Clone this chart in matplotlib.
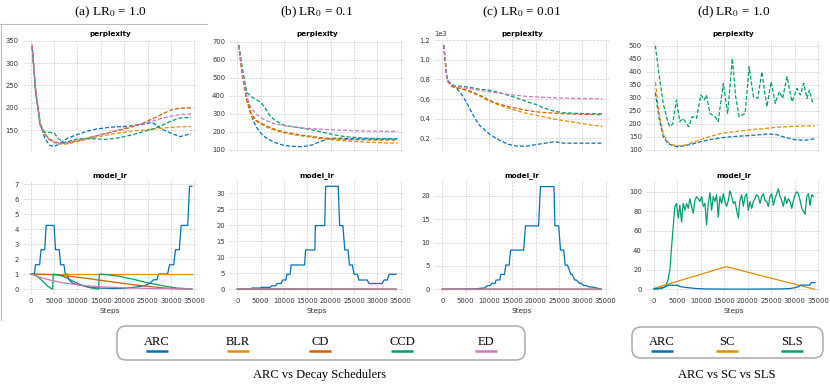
import matplotlib
matplotlib.use('Agg')
import matplotlib.pyplot as plt
import numpy as np
from matplotlib.patches import FancyBboxPatch
from matplotlib.lines import Line2D

plt.rcParams['font.family'] = ['DejaVu Sans']
plt.rcParams['mathtext.fontset'] = 'stix'

# colours (seaborn colorblind)
C_ARC = '#0173b2'
C_BLR = '#de8f05'
C_CD = '#d55e00'
C_CCD = '#029e73'
C_ED = '#cc78bc'

# ---------------- perplexity data ----------------
ppl_steps = [300, 1000, 2000, 3000, 4000, 5000, 6000, 7000, 8000, 10000, 12000,
             14000, 16000, 18000, 20000, 22000, 24000, 26000, 28000, 30000, 32000, 34300]

# (a) LR0 = 1.0
ppl_a_arc = [340, 240, 165, 132, 116, 113, 118, 126, 132, 140, 147, 152, 155, 157, 158, 160, 163, 167, 152, 143, 135, 142]
ppl_a_blr = [342, 245, 165, 140, 128, 122, 119, 118, 119, 124, 129, 134, 138, 142, 145, 148, 150, 152, 154, 156, 157, 158]
ppl_a_cd = [338, 245, 165, 142, 130, 124, 121, 120, 121, 126, 131, 137, 142, 147, 152, 158, 165, 175, 185, 195, 199, 200]
ppl_a_ccd = [335, 240, 160, 145, 145, 143, 130, 122, 124, 130, 131, 130, 129, 131, 135, 140, 146, 152, 160, 170, 177, 178]
ppl_a_ed = [340, 245, 163, 140, 128, 122, 120, 120, 122, 127, 132, 137, 142, 148, 154, 160, 165, 170, 176, 181, 185, 186]

# (b) LR0 = 0.1
ppl_b_arc = [680, 560, 400, 290, 230, 195, 170, 155, 142, 125, 120, 118, 128, 150, 165, 165, 163, 162, 161, 160, 160, 160]
ppl_b_blr = [680, 520, 370, 290, 260, 245, 230, 218, 210, 195, 185, 177, 170, 163, 158, 153, 149, 146, 143, 141, 139, 138]
ppl_b_cd = [680, 530, 380, 300, 265, 250, 237, 225, 215, 200, 190, 182, 175, 168, 163, 160, 158, 157, 156, 155, 155, 155]
ppl_b_ccd = [680, 560, 420, 395, 380, 365, 330, 290, 265, 237, 228, 220, 212, 200, 188, 178, 172, 168, 165, 164, 163, 162]
ppl_b_ed = [680, 540, 390, 330, 300, 280, 265, 255, 245, 235, 228, 222, 218, 215, 212, 210, 208, 206, 205, 204, 203, 203]

# (c) LR0 = 0.01
ppl_c_arc = [1150, 800, 740, 710, 660, 580, 490, 400, 330, 245, 185, 140, 120, 120, 135, 150, 165, 150, 150, 150, 150, 150]
ppl_c_blr = [1150, 790, 730, 715, 705, 690, 670, 650, 630, 580, 540, 510, 480, 455, 435, 415, 395, 380, 365, 350, 335, 320]
ppl_c_cd = [1150, 790, 730, 715, 705, 695, 680, 660, 640, 590, 550, 525, 505, 485, 470, 462, 456, 450, 447, 445, 443, 440]
ppl_c_ccd = [1150, 800, 745, 735, 730, 725, 718, 710, 700, 690, 670, 640, 610, 575, 545, 505, 475, 460, 455, 452, 450, 450]
ppl_c_ed = [1150, 800, 745, 730, 720, 712, 705, 697, 690, 675, 660, 648, 637, 628, 622, 617, 613, 610, 607, 605, 603, 602]

# (d) LR0 = 1.0, ARC vs SC vs SLS
ppl_d_arc = [320, 230, 150, 125, 117, 113, 115, 118, 122, 132, 140, 146, 150, 153, 155, 158, 161, 160, 148, 140, 137, 143]
ppl_d_sc = [360, 250, 160, 130, 120, 116, 117, 121, 127, 140, 152, 162, 168, 172, 176, 180, 183, 187, 189, 191, 192, 192]
sls_ppl_steps = [300, 1000, 2000, 3000, 3360, 4000, 4790, 5500, 6210, 7430, 8140, 9070, 10000, 10700, 11200,
                 11930, 13000, 13700, 14790, 15710, 16710, 17430, 18140, 19430, 20290, 21210, 22140,
                 23000, 24070, 25000, 25860, 26710, 27430, 28360, 29430, 30500, 31210, 31930, 32640,
                 33140, 33860]
sls_ppl = [500, 400, 275, 205, 190, 200, 292, 209, 221, 189, 228, 221, 311, 292, 311,
           240, 228, 209, 356, 240, 451, 304, 228, 240, 419, 304, 298,
           400, 266, 362, 279, 324, 298, 381, 285, 336, 311, 356, 298,
           330, 279]

# ---------------- learning-rate data ----------------
# (a)
lr_a_arc_steps = [0, 800, 1000, 1900, 2200, 3000, 3300, 5000, 5300, 6100, 6400, 7100, 7400, 7800, 8200,
                  9000, 10000, 11500, 13000, 15000, 18000, 20000, 21500, 23000, 24500, 25500, 26300,
                  27000, 27400, 29300, 29700, 30600, 31000, 31800, 32200, 33600, 34000, 34500]
lr_a_arc = [1.0, 1.0, 1.62, 1.62, 2.62, 2.62, 4.24, 4.24, 2.62, 2.62, 1.62, 1.62, 1.0, 1.0, 0.62,
            0.38, 0.3, 0.2, 0.1, 0.06, 0.04, 0.05, 0.1, 0.15, 0.24, 0.38, 0.62,
            0.62, 1.0, 1.0, 1.62, 1.62, 2.62, 2.62, 4.24, 4.24, 6.85, 6.85]
lr_a_blr_steps = [0, 34500]
lr_a_blr = [1.0, 1.0]
lr_a_cd_steps = [0, 2000, 4000, 6000, 8000, 10000, 12000, 14000, 16000, 18000, 20000, 22000,
                 24000, 26000, 28000, 30000, 32000, 34500]
lr_a_cd = [1.0, 0.99, 0.97, 0.92, 0.86, 0.79, 0.71, 0.62, 0.54, 0.45, 0.37, 0.29,
           0.21, 0.15, 0.09, 0.04, 0.01, 0.0]
lr_a_ccd_steps = [0, 700, 1800, 2800, 3600, 4300, 4700, 4800, 6500, 8000, 9500, 11000, 12500, 14000,
                  14500, 14700, 16500, 19000, 22000, 24500, 27000, 29500, 31500, 34500]
lr_a_ccd = [1.0, 1.0, 0.75, 0.45, 0.2, 0.05, 0.0, 1.0, 0.9, 0.7, 0.45, 0.25, 0.1, 0.02,
            0.0, 1.0, 0.95, 0.85, 0.65, 0.45, 0.3, 0.15, 0.06, 0.01]
lr_a_ed_steps = [0, 2000, 4000, 6000, 8000, 10000, 12000, 15000, 18000, 21000, 24000, 27000, 30000, 34500]
lr_a_ed = [1.0, 0.78, 0.61, 0.47, 0.37, 0.29, 0.22, 0.15, 0.11, 0.07, 0.05, 0.03, 0.02, 0.01]

# (b)
lr_b_arc_steps = [0, 3000, 3100, 4900, 5100, 7000, 7400, 8200, 8500, 9400, 9700, 10400, 10600, 11300,
                  11500, 14400, 14600, 16600, 16700, 18700, 18900, 21600, 21900, 22600, 23000, 23700,
                  24000, 24600, 25000, 25700, 26000, 27800, 28200, 31000, 31400, 32100, 32500, 34000]
lr_b_arc = [0.1, 0.2, 0.4, 0.4, 0.6, 0.6, 1.1, 1.1, 1.8, 1.8, 2.9, 2.9, 4.7, 4.7,
            7.6, 7.6, 12.3, 12.3, 19.9, 19.9, 32.2, 32.2, 19.9, 19.9, 12.3, 12.3,
            7.6, 7.6, 4.7, 4.7, 2.9, 2.9, 1.8, 1.8, 2.9, 2.9, 4.7, 4.7]
lr_b_small_steps = [0, 34000]
lr_b_blr = [0.1, 0.1]
lr_b_cd = [0.1, 0.0]
lr_b_ccd = [0.1, 0.0]
lr_b_ed = [0.1, 0.0]

# (c)
lr_c_arc_steps = [0, 5000, 7000, 8000, 9000, 9700, 10300, 10600, 11300, 11500, 12300, 12500, 13300,
                  13600, 14300, 14600, 17400, 17800, 20600, 21000, 23900, 24100, 24900, 25300, 26000,
                  26300, 26800, 27500, 27800, 28300, 28700, 29300, 29700, 30300, 30800, 31500, 32000,
                  33000, 33500, 34000]
lr_c_arc = [0.01, 0.05, 0.1, 0.2, 0.3, 0.8, 0.8, 1.3, 1.3, 2.0, 2.0, 3.2, 3.2,
            5.2, 5.2, 8.4, 8.4, 13.6, 13.6, 22.0, 22.0, 13.6, 13.6, 8.4, 8.4,
            5.2, 5.2, 3.2, 3.2, 2.0, 2.0, 1.3, 1.3, 0.8, 0.8, 0.5, 0.5,
            0.3, 0.15, 0.1]
lr_c_small_steps = [0, 34000]
lr_c_blr = [0.01, 0.01]
lr_c_cd = [0.01, 0.0]
lr_c_ccd = [0.01, 0.0]
lr_c_ed = [0.01, 0.0]

# (d)
lr_d_arc_steps = [0, 1000, 2000, 2500, 3000, 5000, 5500, 7000, 9000, 11000, 15000, 20000, 27000,
                  29000, 30000, 30800, 31300, 33200, 33500, 34300]
lr_d_arc = [0.5, 1.0, 2.0, 2.6, 4.2, 4.2, 2.8, 1.8, 0.8, 0.4, 0.2, 0.2, 0.4,
            0.8, 1.6, 2.7, 4.3, 4.3, 6.8, 6.8]
lr_d_sc_steps = [0, 15400, 34300]
lr_d_sc = [1.0, 23.2, 0.0]
sls_lr_start_steps = [0, 1000, 1800, 2400, 2900, 3400, 3700]
sls_lr_start = [0.3, 0.5, 1.0, 3.0, 8.0, 20.0, 40.0]
sls_lr_noisy = [64, 85, 88, 73, 86, 69, 88, 81, 88, 83, 93, 85, 78, 91, 95, 93, 90, 95, 85, 88,
                66, 88, 99, 81, 95, 90, 97, 74, 95, 88, 98, 90, 85, 91, 101, 95, 88, 90, 81, 73,
                91, 97, 85, 95, 98, 81, 90, 83, 90, 93, 97, 95, 88, 95, 98, 91, 90, 85, 95, 98,
                86, 93, 98, 103, 95, 91, 85, 95, 88, 93, 90, 83, 91, 97, 100, 98, 91, 83, 80, 77,
                95, 98, 86, 97, 95]

W, H = 830, 384
fig = plt.figure(figsize=(W / 100, H / 100), dpi=100)


def px(left, top, width, height):
    return [left / W, 1 - (top + height) / H, width / W, height / H]


TICK_FS = 4.9
GRID_KW = dict(color='#cfcfcf', linestyle='--', linewidth=0.5)


def style_ax(ax, title, ylim, ystep, show_x):
    ax.set_xlim(-1700, 35700)
    ax.set_ylim(*ylim)
    ax.set_xticks(np.arange(0, 35001, 5000))
    ax.yaxis.set_major_locator(plt.MultipleLocator(ystep))
    ax.grid(True, **GRID_KW)
    ax.set_axisbelow(True)
    for s in ax.spines.values():
        s.set_visible(False)
    ax.tick_params(length=0, labelsize=TICK_FS, colors='#333333', pad=3)
    ax.set_title(title, fontsize=TICK_FS + 0.3, fontweight='bold', pad=3)
    if show_x:
        ax.set_xlabel('Steps', fontsize=TICK_FS + 0.4, labelpad=3, color='#333333')
    else:
        ax.tick_params(axis='x', labelbottom=False)


DASH = (0, (3.2, 1.6))
LW = 0.9

lefts = [22.8, 229.4, 434.4, 646]
widths = [174.7, 174.7, 174.7, 175.4]

ppl_axes = [fig.add_axes(px(lefts[i], 40, widths[i], 112)) for i in range(4)]
lr_axes = [fig.add_axes(px(lefts[i], 181, widths[i], 113)) for i in range(4)]

# panel a
ax = ppl_axes[0]
for y, c in [(ppl_a_arc, C_ARC), (ppl_a_blr, C_BLR), (ppl_a_cd, C_CD), (ppl_a_ccd, C_CCD), (ppl_a_ed, C_ED)]:
    ax.plot(ppl_steps, y, color=c, ls=DASH, lw=LW)
style_ax(ax, 'perplexity', (100.6, 352.2), 50, False)
ax = lr_axes[0]
ax.plot(lr_a_arc_steps, lr_a_arc, color=C_ARC, lw=LW)
ax.plot(lr_a_blr_steps, lr_a_blr, color=C_BLR, lw=LW)
ax.plot(lr_a_cd_steps, lr_a_cd, color=C_CD, lw=LW)
ax.plot(lr_a_ccd_steps, lr_a_ccd, color=C_CCD, lw=LW)
ax.plot(lr_a_ed_steps, lr_a_ed, color=C_ED, lw=LW)
style_ax(ax, 'model_lr', (-0.33, 7.2), 1, True)

# panel b
ax = ppl_axes[1]
for y, c in [(ppl_b_arc, C_ARC), (ppl_b_blr, C_BLR), (ppl_b_cd, C_CD), (ppl_b_ccd, C_CCD), (ppl_b_ed, C_ED)]:
    ax.plot(ppl_steps, y, color=c, ls=DASH, lw=LW)
style_ax(ax, 'perplexity', (88.9, 709.4), 100, False)
ax = lr_axes[1]
ax.plot(lr_b_arc_steps, lr_b_arc, color=C_ARC, lw=LW)
for y, c in [(lr_b_blr, C_BLR), (lr_b_cd, C_CD), (lr_b_ccd, C_CCD), (lr_b_ed, C_ED)]:
    ax.plot(lr_b_small_steps, y, color=c, lw=LW)
style_ax(ax, 'model_lr', (-1.47, 33.84), 5, True)

# panel c
ax = ppl_axes[2]
for y, c in [(ppl_c_arc, C_ARC), (ppl_c_blr, C_BLR), (ppl_c_cd, C_CD), (ppl_c_ccd, C_CCD), (ppl_c_ed, C_ED)]:
    ax.plot(ppl_steps, y, color=c, ls=DASH, lw=LW)
style_ax(ax, 'perplexity', (60, 1202), 200, False)
ax.ticklabel_format(axis='y', style='sci', scilimits=(3, 3))
ax.yaxis.get_offset_text().set_fontsize(TICK_FS)
ax.yaxis.get_offset_text().set_color('#333333')
ax = lr_axes[2]
ax.plot(lr_c_arc_steps, lr_c_arc, color=C_ARC, lw=LW)
for y, c in [(lr_c_blr, C_BLR), (lr_c_cd, C_CD), (lr_c_ccd, C_CCD), (lr_c_ed, C_ED)]:
    ax.plot(lr_c_small_steps, y, color=c, lw=LW)
style_ax(ax, 'model_lr', (-1.0, 23.2), 5, True)

# panel d
ax = ppl_axes[3]
ax.plot(ppl_steps, ppl_d_arc, color=C_ARC, ls=DASH, lw=LW)
ax.plot(ppl_steps, ppl_d_sc, color=C_BLR, ls=DASH, lw=LW)
ax.plot(sls_ppl_steps, sls_ppl, color=C_CCD, ls=DASH, lw=LW)
style_ax(ax, 'perplexity', (92.3, 521.9), 50, False)
ax = lr_axes[3]
sls_steps = sls_lr_start_steps + list(np.linspace(4100, 34000, len(sls_lr_noisy)))
ax.plot(sls_steps, sls_lr_start + sls_lr_noisy, color=C_CCD, lw=LW)
ax.plot(lr_d_sc_steps, lr_d_sc, color=C_BLR, lw=LW)
ax.plot(lr_d_arc_steps, lr_d_arc, color=C_ARC, lw=LW)
style_ax(ax, 'model_lr', (-4.8, 111), 20, True)

# panel headers
SERIF = 'Liberation Serif'
headers = [r'(a) LR$_0$ = 1.0', r'(b) LR$_0$ = 0.1', r'(c) LR$_0$ = 0.01', r'(d) LR$_0$ = 1.0']
for i, h in enumerate(headers):
    fig.text((lefts[i] + widths[i] / 2) / W, 1 - 12 / H, h, ha='center', va='center',
             fontsize=9.5, family=SERIF)

# light frame around the first panel
fig.add_artist(Line2D([0, 207 / W], [1 - 24 / H, 1 - 24 / H], color='#bbbbbb', lw=0.8))
fig.add_artist(Line2D([0.6 / W, 0.6 / W], [1 - 24 / H, 1 - 320 / H], color='#bbbbbb', lw=0.8))

# legend boxes
def legend_box(x0, y0, x1, y1, labels, centers, colors, caption, cap_x):
    box = FancyBboxPatch((x0 / W, 1 - y1 / H), (x1 - x0) / W, (y1 - y0) / H,
                         boxstyle='round,pad=0,rounding_size=0.011', mutation_aspect=W / H,
                         transform=fig.transFigure,
                         facecolor='white', edgecolor='#aaaaaa', lw=1.1)
    fig.add_artist(box)
    for lab, cx, c in zip(labels, centers, colors):
        fig.text(cx / W, 1 - 342 / H, lab, ha='center', va='center', fontsize=9, family=SERIF)
        fig.add_artist(Line2D([(cx - 11) / W, (cx + 11) / W], [1 - 351 / H, 1 - 351 / H],
                              color=c, lw=1.8, solid_capstyle='butt'))
    fig.text(cap_x / W, 1 - 375 / H, caption, ha='center', va='center', fontsize=9, family=SERIF)


legend_box(117, 326, 525, 360, ['ARC', 'BLR', 'CD', 'CCD', 'ED'], [157, 238, 320, 402, 486],
           [C_ARC, C_BLR, C_CD, C_CCD, C_ED], 'ARC vs Decay Schedulers', 320)
legend_box(632, 327, 823, 358, ['ARC', 'SC', 'SLS'], [662, 727, 792],
           [C_ARC, C_BLR, C_CCD], 'ARC vs SC vs SLS', 727)

plt.savefig('out.png', dpi=100)
